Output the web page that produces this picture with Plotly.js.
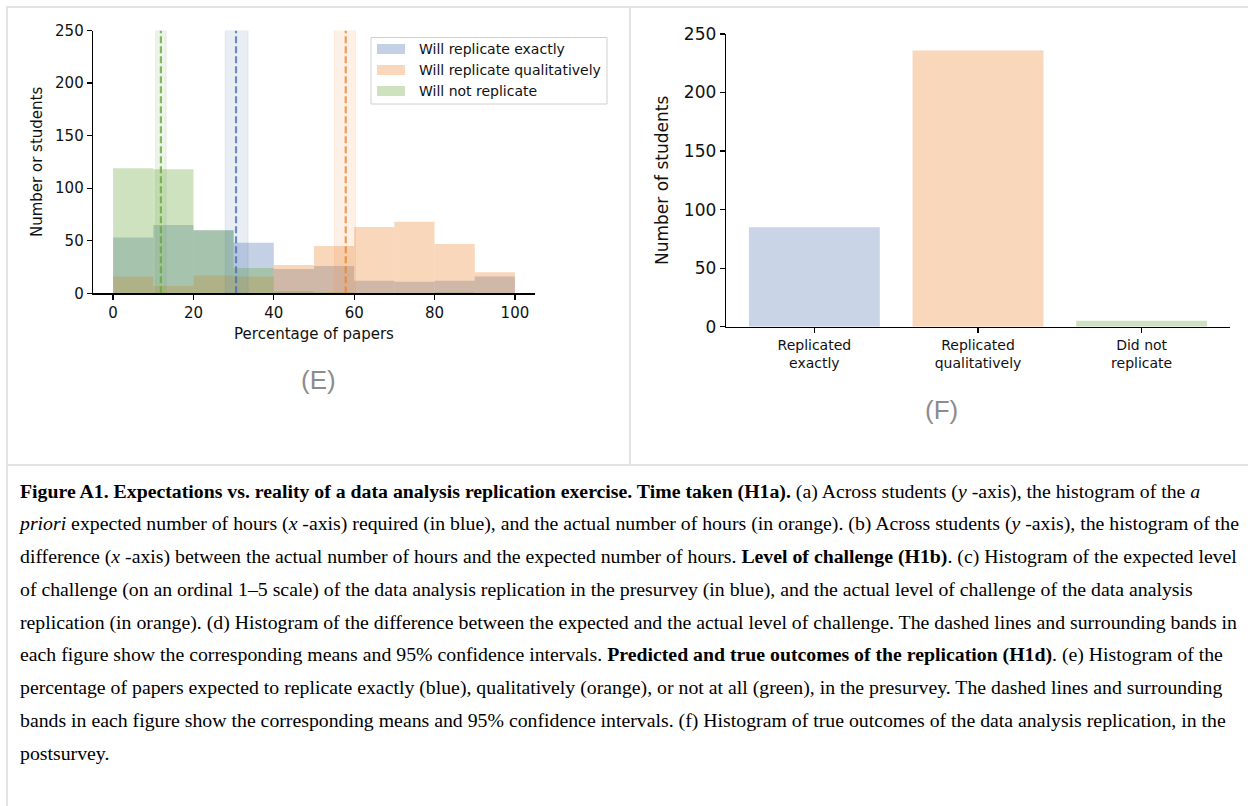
<!DOCTYPE html>
<html>
<head>
<meta charset="utf-8">
<script src="https://cdn.plot.ly/plotly-3.0.1.min.js"></script>
<style>
  html, body { margin: 0; padding: 0; background: #fff; width: 1248px; height: 806px; overflow: hidden; }
  #frame { position: absolute; left: 6px; top: 6px; width: 1260px; height: 820px; border: 2px solid #e3e3e3; box-sizing: border-box; }
  #vdiv { position: absolute; left: 629px; top: 6px; width: 2px; height: 460px; background: #e3e3e3; }
  #hdiv { position: absolute; left: 6px; top: 464px; width: 1260px; height: 2px; background: #e3e3e3; }
  #chart { position: absolute; left: 0; top: 0; width: 1248px; height: 465px; }
  #caption { position: absolute; left: 20px; top: 474.5px; font-family: "Liberation Serif", "Times New Roman", serif; font-size: 19.8px; line-height: 32.75px; color: #000; white-space: nowrap; }
</style>
</head>
<body>
<div id="chart"></div>
<div id="frame"></div>
<div id="vdiv"></div>
<div id="hdiv"></div>
<div id="caption">
<b>Figure A1. Expectations vs. reality of a data analysis replication exercise. Time taken (H1a).</b> (a) Across students (<i>y</i> -axis), the histogram of the <i>a</i><br>
<i>priori</i> expected number of hours (<i>x</i> -axis) required (in blue), and the actual number of hours (in orange). (b) Across students (<i>y</i> -axis), the histogram of the<br>
difference (<i>x</i> -axis) between the actual number of hours and the expected number of hours. <b>Level of challenge (H1b)</b>. (c) Histogram of the expected level<br>
of challenge (on an ordinal 1–5 scale) of the data analysis replication in the presurvey (in blue), and the actual level of challenge of the data analysis<br>
replication (in orange). (d) Histogram of the difference between the expected and the actual level of challenge. The dashed lines and surrounding bands in<br>
each figure show the corresponding means and 95% confidence intervals. <b>Predicted and true outcomes of the replication (H1d)</b>. (e) Histogram of the<br>
percentage of papers expected to replicate exactly (blue), qualitatively (orange), or not at all (green), in the presurvey. The dashed lines and surrounding<br>
bands in each figure show the corresponding means and 95% confidence intervals. (f) Histogram of true outcomes of the data analysis replication, in the<br>
postsurvey.
</div>
<script>
// ---------- Data ----------
// Panel E: histogram bins (left edges, width 10) of percentage of papers
var binLeft = [0, 10, 20, 30, 40, 50, 60, 70, 80, 90];
var binWidth = 10;
var seriesNames = ["Will replicate exactly", "Will replicate qualitatively", "Will not replicate"];
var countsExactly = [53, 65, 60, 48, 23, 26, 12, 11, 12, 16];
var countsQualitatively = [16, 7, 17, 16, 27, 45, 63, 68, 47, 20];
var countsNot = [119, 118, 60, 24, 2, 1, 0, 0, 1, 0];
// Means and 95% CI bounds (exactly, qualitatively, not)
var means = [30.6, 57.9, 11.9];
var ciLow = [27.9, 55.1, 10.6];
var ciHigh = [33.6, 60.3, 13.2];
// Panel F: true outcomes
var outcomeLabels = ["Replicated<br>exactly", "Replicated<br>qualitatively", "Did not<br>replicate"];
var outcomeCounts = [85, 236, 5];
// Tick values
var eXTicks = [0, 20, 40, 60, 80, 100];
var yTicks = [0, 50, 100, 150, 200, 250];

// ---------- Style ----------
var base = ["76,114,176", "235,135,50", "106,168,64"];
function rgba(c, a) { return "rgba(" + c + "," + a + ")"; }
var W = 1248, H = 465;
function px(x) { return x / W; }
function py(y) { return 1 - y / H; }

var FONT = "DejaVu Sans, sans-serif";
var countsAll = [countsExactly, countsQualitatively, countsNot];

var traces = [];
for (var i = 0; i < 3; i++) {
  traces.push({
    type: "bar",
    x: binLeft,
    y: countsAll[i],
    width: binWidth,
    offset: 0,
    name: seriesNames[i],
    marker: { color: rgba(base[i], 0.33), line: { width: 0 } },
    xaxis: "x", yaxis: "y",
    showlegend: false,
    hoverinfo: "x+y+name"
  });
}
traces.push({
  type: "bar",
  x: outcomeLabels,
  y: outcomeCounts,
  width: 0.8,
  marker: { color: [rgba(base[0], 0.3), rgba(base[1], 0.33), rgba(base[2], 0.33)], line: { width: 0 } },
  xaxis: "x2", yaxis: "y2",
  showlegend: false
});

var shapes = [];
var annotations = [];
for (var i = 0; i < 3; i++) {
  shapes.push({
    type: "rect", xref: "x", yref: "y", x0: ciLow[i], x1: ciHigh[i], y0: 0, y1: 250,
    fillcolor: rgba(base[i], 0.12), line: { color: rgba(base[i], 0.12), width: 1 }, layer: "above"
  });
  shapes.push({
    type: "line", xref: "x", yref: "y", x0: means[i], x1: means[i], y0: 0, y1: 250,
    line: { color: rgba(base[i], 0.8), width: 2.2, dash: "7px,3px" }, layer: "above"
  });
}
// Custom legend (matplotlib style)
shapes.push({
  type: "rect", xref: "paper", yref: "paper",
  x0: px(371), x1: px(607), y0: py(104), y1: py(37.5),
  fillcolor: "rgba(255,255,255,0.8)", line: { color: "#d0d0d0", width: 1 }, layer: "above"
});
var legRows = [49, 70, 91];
for (var i = 0; i < 3; i++) {
  shapes.push({
    type: "rect", xref: "paper", yref: "paper",
    x0: px(377), x1: px(405), y0: py(legRows[i] + 5), y1: py(legRows[i] - 5),
    fillcolor: rgba(base[i], 0.33), line: { width: 0 }, layer: "above"
  });
  annotations.push({
    xref: "paper", yref: "paper", x: px(416.5), y: py(legRows[i]),
    xanchor: "left", yanchor: "middle", showarrow: false,
    text: seriesNames[i], font: { family: FONT, size: 14, color: "#111" }
  });
}
annotations.push({
  xref: "paper", yref: "paper", x: px(318), y: py(380), xanchor: "center", yanchor: "middle",
  showarrow: false, text: "(E)", font: { family: "Liberation Sans, Arial, sans-serif", size: 26, color: "#8c8c8c" }
});
annotations.push({
  xref: "paper", yref: "paper", x: px(941), y: py(410), xanchor: "center", yanchor: "middle",
  showarrow: false, text: "(F)", font: { family: "Liberation Sans, Arial, sans-serif", size: 26, color: "#8c8c8c" }
});

var axCommon = {
  showgrid: false, zeroline: false, showline: true, linecolor: "#000", linewidth: 1.3,
  ticks: "outside", ticklen: 5, tickwidth: 1.3, tickcolor: "#000", fixedrange: true
};

var layout = {
  width: W, height: H,
  margin: { l: 0, r: 0, t: 0, b: 0 },
  paper_bgcolor: "rgba(0,0,0,0)", plot_bgcolor: "rgba(0,0,0,0)",
  barmode: "overlay",
  font: { family: FONT, color: "#111" },
  showlegend: false,
  xaxis: Object.assign({}, axCommon, {
    domain: [px(93), px(535)], range: [-5, 105], tickvals: eXTicks,
    tickfont: { family: FONT, size: 15, color: "#111" },
    title: { text: "Percentage of papers", font: { family: FONT, size: 15, color: "#111" }, standoff: 8 },
    anchor: "y"
  }),
  yaxis: Object.assign({}, axCommon, {
    domain: [py(293.3), py(30.5)], range: [0, 250], tickvals: yTicks,
    tickfont: { family: FONT, size: 15, color: "#111" },
    title: { text: "Number or students", font: { family: FONT, size: 15, color: "#111" }, standoff: 8 },
    anchor: "x"
  }),
  xaxis2: Object.assign({}, axCommon, {
    domain: [px(726), px(1230)], range: [-0.54, 2.54], type: "category",
    tickfont: { family: FONT, size: 14, color: "#111" },
    anchor: "y2"
  }),
  yaxis2: Object.assign({}, axCommon, {
    domain: [py(326.7), py(34)], range: [0, 250], tickvals: yTicks,
    tickfont: { family: FONT, size: 17, color: "#111" },
    title: { text: "Number of students", font: { family: FONT, size: 17, color: "#111" }, standoff: 11 },
    anchor: "x2"
  }),
  shapes: shapes,
  annotations: annotations
};

Plotly.newPlot("chart", traces, layout, { staticPlot: true, displayModeBar: false });
</script>
</body>
</html>
